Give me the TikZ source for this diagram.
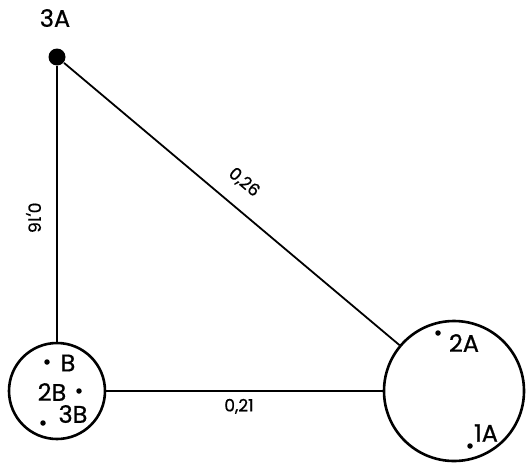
\documentclass[tikz,border=0pt]{standalone}
\usepackage{fontspec}
\setmainfont{Poppins}
\newfontfamily\mapfont{Poppins}[FakeBold=0.7]
\usetikzlibrary{positioning}
\tikzset{
  every picture/.style={line width=1.4pt},
  zone/.style={draw,circle,line width=2.6pt,inner sep=0},
  hub/.style={fill,circle,minimum size=17pt,inner sep=0},
  pt/.style={fill,circle,minimum size=5.5pt,inner sep=0},
  lbl/.style={font=\mapfont\fontsize{24}{24}\selectfont,inner sep=1pt},
  num/.style={font=\mapfont\fontsize{17}{17}\selectfont,inner sep=2pt},
  link/.style={line width=1.8pt},
}

\begin{document}
\begin{tikzpicture}[x=1pt,y=-1pt]
\useasboundingbox (0,0) rectangle (526,466);
% --- zones ---
\node[hub] (A3) at (57,57) {};
\node[lbl] (tA3) at (55,18) {3A};
\node[zone,minimum size=96pt] (ZB) at (57,391) {};
\node[zone,minimum size=140pt] (ZA) at (454,391) {};
% --- links ---
\draw[link,line width=2.4pt] (A3) -- (ZB) node[num,pos=0.55,rotate=-90,anchor=north,outer sep=14pt] {0,16};
\draw[link] (A3) -- (ZA) node[num,pos=0.49,above=14pt,sloped] {0,26};
\draw[link] (ZB) -- (ZA) node[num,pos=0.48,below=5pt] {0,21};
% --- points in zone B ---
\node[pt] (dB) at (47,362) {};   \node[lbl] (tB) at (68,363) {B};
\node[pt] (d2B) at (79,391) {};  \node[lbl] (t2B) at (52,392) {2B};
\node[pt] (d3B) at (43,423) {};  \node[lbl] (t3B) at (73,414) {3B};
% --- points in zone A ---
\node[pt] (d2A) at (438,333) {}; \node[lbl] (t2A) at (464,343) {2A};
\node[pt] (d1A) at (470,446) {}; \node[lbl] (t1A) at (486,433) {1A};
\end{tikzpicture}
\end{document}
